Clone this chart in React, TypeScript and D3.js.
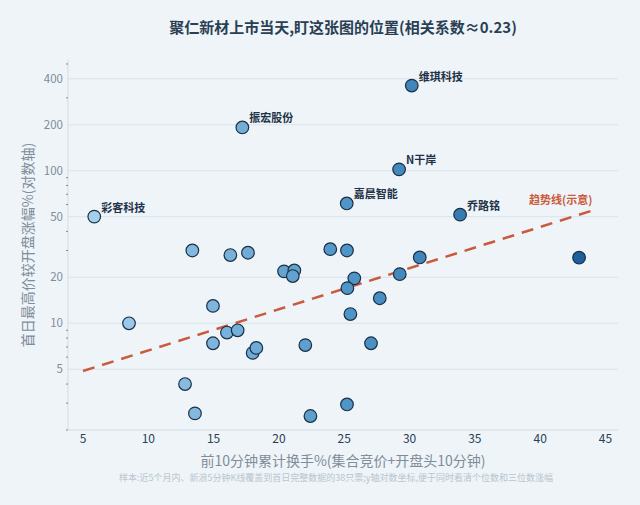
import * as d3 from "d3";

// 前10分钟累计换手% / 首日最高价较开盘涨幅%
const turnover = [
  5.86, 13.37, 16.28, 17.63, 14.95, 8.52, 16.02, 16.84, 14.95, 17.99, 18.27, 12.81, 13.57,
  25.19, 33.87, 23.93, 25.21, 30.78, 20.39, 21.18, 21.06, 25.77, 29.25, 25.24, 27.72, 25.47,
  22.02, 27.05, 25.21, 22.41, 30.17, 17.2, 29.2, 42.98,
];
const highGain = [
  50, 30, 28, 29, 13, 10, 8.7, 9.0, 7.4, 6.4, 6.9, 4.0, 2.57,
  61, 51.5, 30.6, 30, 27, 21.9, 22.2, 20.4, 19.7, 21, 17, 14.6, 11.5,
  7.2, 7.4, 2.94, 2.47, 361, 192, 102, 26.9,
];
const pointLabels = [
  "彩客科技", "", "", "", "", "", "", "", "", "", "", "", "",
  "嘉晨智能", "乔路铭", "", "", "", "", "", "", "", "", "", "", "",
  "", "", "", "", "维琪科技", "振宏股份", "N干岸", "",
];

const trendX = [5, 44];
const trendY = [4.87, 54.8];

const xTicks = [5, 10, 15, 20, 25, 30, 35, 40, 45];
const yTicks = [5, 10, 20, 50, 100, 200, 400];
const yMinorTicks = [2, 3, 4, 6, 7, 8, 9, 30, 40, 60, 70, 80, 90, 300, 500];

const W = 640;
const H = 505;
const margin = { top: 60, right: 22, bottom: 75, left: 68 };
const FONT = "'Noto Sans CJK SC', 'Noto Sans', sans-serif";

export default function App() {
  const x = d3.scaleLinear().domain([3.85, 45.96]).range([margin.left, W - margin.right]);
  const y = d3.scaleLog().domain([2.0, 531]).range([H - margin.bottom, margin.top]);
  const color = d3
    .scaleLinear<string>()
    .domain([5, 25, 43])
    .range(["#a9d3ef", "#5096c8", "#1d609c"]);

  const trendLine = d3
    .line<number>()
    .x((d) => x(d))
    .y((_, i) => y(trendY[i]));

  const points = turnover.map((t, i) => ({ t, g: highGain[i], label: pointLabels[i] }));
  const plotMid = (margin.left + W - margin.right) / 2;

  return (
    <svg
      width={W}
      height={H}
      style={{ position: "absolute", left: 0, top: 0, fontFamily: FONT }}
    >
      <rect width={W} height={H} fill="#eef4f8" />

      {/* grid */}
      {yTicks.map((t) => (
        <line
          key={"g" + t}
          x1={margin.left}
          x2={W - margin.right}
          y1={y(t)}
          y2={y(t)}
          stroke="#dbe4ec"
          strokeWidth={1}
        />
      ))}

      {/* axes lines */}
      <line x1={margin.left} x2={margin.left} y1={margin.top} y2={H - margin.bottom} stroke="#d3dce4" />
      <line x1={margin.left} x2={W - margin.right} y1={H - margin.bottom} y2={H - margin.bottom} stroke="#d3dce4" />

      {/* y minor ticks */}
      {yMinorTicks.map((t) => (
        <line
          key={"m" + t}
          x1={margin.left - 2}
          x2={margin.left}
          y1={y(t)}
          y2={y(t)}
          stroke="#7f8c9a"
          strokeWidth={1}
        />
      ))}

      {/* y tick labels */}
      {yTicks.map((t) => (
        <text
          key={"y" + t}
          x={margin.left - 5}
          y={y(t)}
          dy="0.35em"
          textAnchor="end"
          fontSize={11.5}
          fill="#7f8c9a"
        >
          {t}
        </text>
      ))}

      {/* x tick labels */}
      {xTicks.map((t) => (
        <text
          key={"x" + t}
          x={x(t)}
          y={H - margin.bottom + 9}
          dy="0.35em"
          textAnchor="middle"
          fontSize={12}
          fill="#2a3f54"
        >
          {t}
        </text>
      ))}

      {/* trend */}
      <path
        d={trendLine(trendX) || ""}
        fill="none"
        stroke="#cb5a3c"
        strokeWidth={2.5}
        strokeDasharray="12,8"
      />
      <text
        x={x(trendX[1])}
        y={y(trendY[1]) - 7}
        textAnchor="end"
        fontSize={11}
        fontWeight="bold"
        fill="#cb5a3c"
      >
        趋势线(示意)
      </text>

      {/* points */}
      {points.map((p, i) => (
        <circle
          key={"p" + i}
          cx={x(p.t)}
          cy={y(p.g)}
          r={6.3}
          fill={color(p.t)}
          stroke="#1b2f45"
          strokeWidth={1.2}
        />
      ))}
      {points
        .filter((p) => p.label)
        .map((p) => (
          <text
            key={"l" + p.label}
            x={x(p.t) + 7}
            y={y(p.g) - 5}
            fontSize={11}
            fontWeight="bold"
            fill="#1f3347"
          >
            {p.label}
          </text>
        ))}

      {/* titles */}
      <text x={plotMid} y={33} textAnchor="middle" fontSize={15} fontWeight="bold" fill="#2a3f54">
        聚仁新材上市当天,盯这张图的位置(相关系数≈0.23)
      </text>
      <text x={plotMid} y={466} textAnchor="middle" fontSize={14} fill="#7f8c9a">
        前10分钟累计换手%(集合竞价+开盘头10分钟)
      </text>
      <text
        transform={`translate(33,${(margin.top + H - margin.bottom) / 2}) rotate(-90)`}
        textAnchor="middle"
        fontSize={14}
        fill="#7f8c9a"
      >
        首日最高价较开盘涨幅%(对数轴)
      </text>
      <text x={336} y={481} textAnchor="middle" fontSize={9} fill="#b9c5cf">
        样本:近5个月内、新浪5分钟K线覆盖到首日完整数据的38只票;y轴对数坐标,便于同时看清个位数和三位数涨幅
      </text>
    </svg>
  );
}
